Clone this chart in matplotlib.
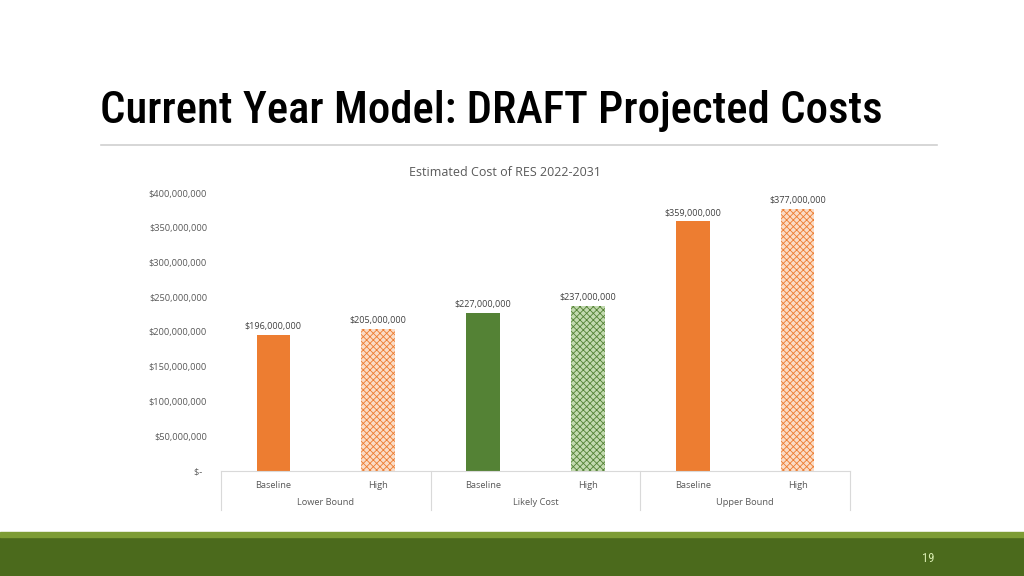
import matplotlib.pyplot as plt
import numpy as np
from matplotlib.ticker import FuncFormatter

# data
groups = ['Lower Bound', 'Likely Cost', 'Upper Bound']
scenarios = ['Baseline', 'High']
costs = [196000000, 205000000, 227000000, 237000000, 359000000, 377000000]
bar_colors = ['#ED7D31', '#ED7D31', '#548235', '#548235', '#ED7D31', '#ED7D31']
y_ticks = [0, 50000000, 100000000, 150000000, 200000000, 250000000, 300000000, 350000000, 400000000]

plt.rcParams['font.family'] = ['Open Sans', 'DejaVu Sans']
plt.rcParams['hatch.linewidth'] = 0.6
narrow = ['Roboto Condensed', 'Archivo Narrow', 'Barlow Condensed', 'PT Sans Narrow',
          'Liberation Sans Narrow', 'DejaVu Sans']

fig = plt.figure(figsize=(10.24, 5.76), dpi=100)
fig.patch.set_facecolor('white')

# slide title + rule
fig.text(100 / 1024, 1 - 111 / 576, 'Current Year Model: DRAFT Projected Costs',
         family=narrow, fontsize=32.2, fontweight='medium', fontstretch='condensed',
         ha='left', va='center', color='black')
fig.add_artist(plt.Line2D([101 / 1024, 937 / 1024], [1 - 145 / 576] * 2,
                          color='#d0d0d0', lw=1.2))

# footer bands
fig.add_artist(plt.Rectangle((0, 0), 1, 39 / 576, transform=fig.transFigure,
                             color='#4b6a1c', zorder=0))
fig.add_artist(plt.Rectangle((0, 39 / 576), 1, 5 / 576, transform=fig.transFigure,
                             color='#7d9c35', zorder=0))
fig.text(928 / 1024, 1 - 558 / 576, '19', color='#d8ecb0', fontsize=9,
         family=narrow, ha='center', va='center')

ax = fig.add_axes([221 / 1024, 105 / 576, 629 / 1024, 278 / 576])
x = np.arange(len(costs))
for i, (v, c) in enumerate(zip(costs, bar_colors)):
    if i % 2 == 0:
        ax.bar(x[i], v, width=0.32, color=c, zorder=2)
    else:
        light = '#fbdcc6' if c == '#ED7D31' else '#c3dab0'
        ax.bar(x[i], v, width=0.32, facecolor=light, edgecolor=c, linewidth=0,
               hatch='xxxxx', zorder=2)
    ax.text(x[i], v + 5500000, '${:,.0f}'.format(v), ha='center', va='bottom',
            fontsize=6.5, color='#404040')

ax.set_xlim(-0.5, len(costs) - 0.5)
ax.set_ylim(0, 400000000)
ax.set_yticks(y_ticks)
ax.yaxis.set_major_formatter(FuncFormatter(lambda v, p: '$-  ' if v == 0 else '${:,.0f}'.format(v)))
ax.set_xticks(x)
ax.set_xticklabels(scenarios * len(groups))
ax.tick_params(axis='both', length=0, labelsize=6.7, labelcolor='#595959')
ax.tick_params(axis='y', pad=10)
ax.tick_params(axis='x', pad=7)
for s in ['top', 'right', 'left']:
    ax.spines[s].set_visible(False)
ax.spines['bottom'].set_color('#d9d9d9')

# group separators and labels
trans = ax.get_xaxis_transform()
for b in [-0.5, 1.5, 3.5, 5.5]:
    ax.plot([b, b], [0, -0.14], transform=trans, color='#d9d9d9', lw=0.8, clip_on=False)
for gi, g in enumerate(groups):
    ax.text(gi * 2 + 0.5, -0.113, g, transform=trans, ha='center', va='center',
            fontsize=6.7, color='#595959')

fig.text(505 / 1024, 1 - 172 / 576, 'Estimated Cost of RES 2022-2031', fontsize=9,
         color='#595959', ha='center', va='center')

fig.savefig('out.png', dpi=100)
